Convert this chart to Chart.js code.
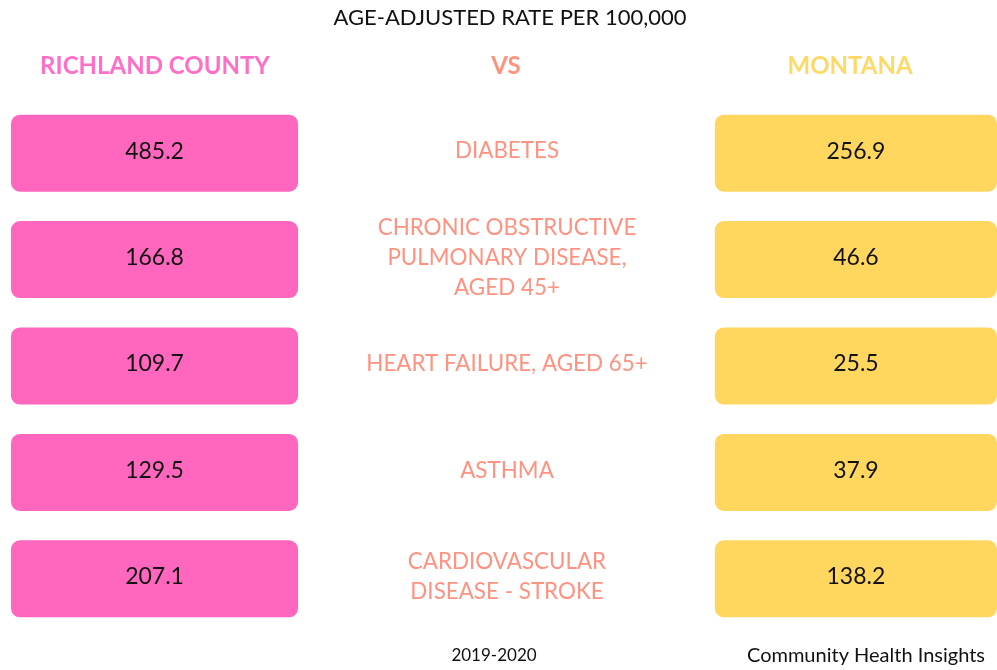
<!DOCTYPE html>
<html>
<head>
<meta charset="utf-8">
<script src="https://cdn.jsdelivr.net/npm/chart.js@4/dist/chart.umd.min.js"></script>
<style>
  html, body { margin: 0; padding: 0; background: #fff; }
  #wrap { width: 997px; height: 670px; position: relative; }
</style>
</head>
<body>
<div id="wrap"><canvas id="canvas" width="997" height="670"></canvas></div>
<script>
// conditions (middle column), each one is a list of text lines
const conditions = [
    ['DIABETES'],
    ['CHRONIC OBSTRUCTIVE', 'PULMONARY DISEASE,', 'AGED 45+'],
    ['HEART FAILURE, AGED 65+'],
    ['ASTHMA'],
    ['CARDIOVASCULAR', 'DISEASE - STROKE']
]

const richlandRates = [485.2, 166.8, 109.7, 129.5, 207.1]
const montanaRates = [256.9, 46.6, 25.5, 37.9, 138.2]

const title = 'AGE-ADJUSTED RATE PER 100,000'
const leftHeader = 'RICHLAND COUNTY'
const middleHeader = 'VS'
const rightHeader = 'MONTANA'
const yearsNote = '2019-2020'
const sourceNote = 'Community Health Insights'

// columns of the table on a 0..100 layout axis
const richlandColumn = [1.1, 29.9]
const montanaColumn = [71.7, 100]

const PINK = '#ff66be'
const YELLOW = '#ffd75f'
const SALMON = '#ff9280'
const FONT = 'Lato, "Open Sans", sans-serif'

const labels = conditions.map(c => c.join(' '))

const textPlugin = {
    id: 'tableText',
    afterDatasetsDraw: chart => {
        const ctx = chart.ctx
        ctx.save()
        ctx.textAlign = 'center'
        ctx.textBaseline = 'middle'

        // values inside the boxes
        const rates = [richlandRates, montanaRates]
        rates.forEach((list, di) => {
            chart.getDatasetMeta(di).data.forEach((bar, i) => {
                const c = bar.getCenterPoint()
                ctx.fillStyle = '#111'
                ctx.font = `23px ${FONT}`
                ctx.fillText(list[i].toFixed(1), c.x, c.y - 2)
            })
        })

        // condition names in the middle
        const yScale = chart.scales.y
        ctx.fillStyle = SALMON
        ctx.font = `22.4px ${FONT}`
        conditions.forEach((lines, i) => {
            const y = yScale.getPixelForValue(i)
            const lh = 30
            lines.forEach((line, k) => {
                ctx.fillText(line, 507, y + (k - (lines.length - 1) / 2) * lh - 2)
            })
        })

        // headings and notes
        ctx.fillStyle = '#111'
        ctx.font = `22px ${FONT}`
        ctx.fillText(title, 510, 18)

        ctx.font = `bold 24px ${FONT}`
        ctx.fillStyle = '#ff6ec7'
        ctx.fillText(leftHeader, 155, 66)
        ctx.fillStyle = SALMON
        ctx.fillText(middleHeader, 506, 66)
        ctx.fillStyle = '#ffd966'
        ctx.fillText(rightHeader, 850, 66)

        ctx.fillStyle = '#111'
        ctx.font = `17px ${FONT}`
        ctx.fillText(yearsNote, 494, 656)
        ctx.font = `20px ${FONT}`
        ctx.fillText(sourceNote, 866, 656)
        ctx.restore()
    }
}

const ctx = document.querySelector('#canvas').getContext('2d')
const myChart = new Chart(ctx, {
    type: 'bar',
    data: {
        labels: labels,
        datasets: [{
            label: leftHeader,
            data: richlandRates.map(() => richlandColumn),
            backgroundColor: PINK
        }, {
            label: rightHeader,
            data: montanaRates.map(() => montanaColumn),
            backgroundColor: YELLOW
        }]
    },
    options: {
        indexAxis: 'y',
        responsive: false,
        animation: false,
        layout: {
            padding: { top: 100, bottom: 38, left: 0, right: 0 }
        },
        datasets: {
            bar: {
                grouped: false,
                categoryPercentage: 1,
                barPercentage: 0.724,
                borderRadius: 9,
                borderSkipped: false
            }
        },
        scales: {
            x: { type: 'linear', min: 0, max: 100, display: false },
            y: { type: 'category', display: false }
        },
        plugins: {
            legend: { display: false },
            tooltip: { enabled: false }
        }
    },
    plugins: [textPlugin]
})
</script>
</body>
</html>
